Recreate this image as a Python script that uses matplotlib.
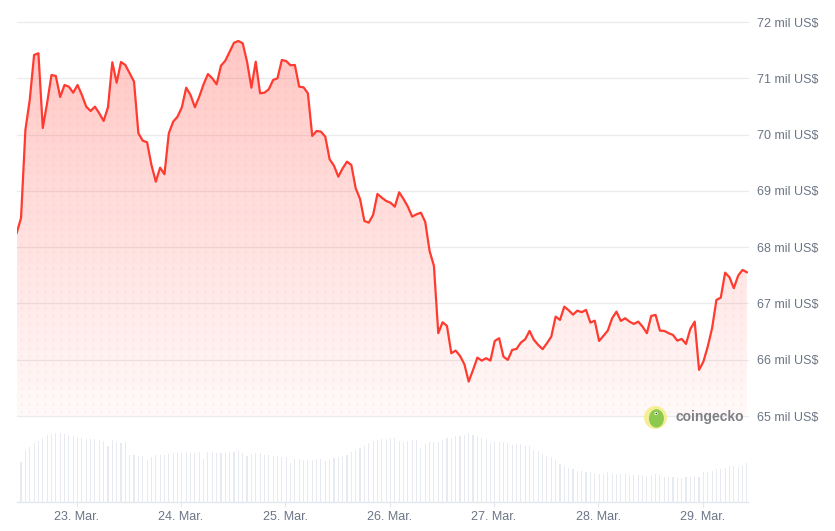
import matplotlib
matplotlib.use("Agg")
import matplotlib.pyplot as plt
import matplotlib.dates as mdates
from matplotlib.ticker import FuncFormatter, FixedLocator
from matplotlib.patches import Ellipse
import numpy as np
import pandas as pd

plt.rcParams['font.family'] = ['Liberation Sans', 'DejaVu Sans']

# hourly BTC price (US$), 22 Mar 10:12 -> 29 Mar
start = "2024-03-22 10:12"
price = [
    68252, 68519, 70082, 70615, 71414, 71444, 70117, 70561, 71059, 71041,
    70668, 70881, 70851, 70744, 70881, 70703, 70496, 70419, 70496, 70378,
    70242, 70485, 71284, 70922, 71290, 71236, 71089, 70940, 70023, 69892,
    69863, 69460, 69163, 69412, 69295, 70023, 70229, 70318, 70485, 70833,
    70703, 70485, 70673, 70893, 71076, 71000, 70893, 71224, 71313, 71472,
    71632, 71663, 71622, 71295, 70833, 71295, 70734, 70744, 70805, 70970,
    71000, 71325, 71307, 71231, 71236, 70851, 70840, 70734, 69975, 70064,
    70052, 69963, 69561, 69448, 69252, 69401, 69519, 69460, 69046, 68856,
    68465, 68435, 68572, 68945, 68879, 68821, 68790, 68719, 68975, 68856,
    68719, 68542, 68584, 68613, 68448, 67933, 67666, 66471, 66666, 66600,
    66115, 66162, 66068, 65920, 65611, 65819, 66037, 65984, 66027, 65984,
    66334, 66382, 66055, 65996, 66174, 66192, 66304, 66364, 66512, 66352,
    66263, 66187, 66293, 66410, 66766, 66707, 66943, 66879, 66801, 66872,
    66844, 66885, 66659, 66694, 66334, 66423, 66517, 66737, 66854, 66689,
    66737, 66677, 66636, 66677, 66588, 66471, 66778, 66796, 66517, 66512,
    66471, 66440, 66339, 66369, 66281, 66547, 66677, 65819, 65966, 66233,
    66560, 67062, 67103, 67547, 67465, 67270, 67494, 67595, 67554,
]

# hourly traded volume (relative units)
volume = [
    39.3, 39.3, 51.0, 53.7, 57.0, 59.7, 62.0, 64.7, 66.0, 67.0,
    67.0, 66.3, 65.3, 63.7, 62.7, 62.0, 61.0, 61.0, 61.0, 60.3,
    59.3, 54.3, 60.0, 58.0, 57.7, 58.0, 45.3, 45.3, 44.7, 44.3,
    41.0, 43.7, 45.3, 46.0, 46.0, 46.3, 47.3, 47.7, 47.3, 48.7,
    48.0, 48.0, 49.0, 42.0, 49.0, 49.0, 47.7, 48.0, 48.0, 48.3,
    49.0, 50.0, 47.7, 44.3, 46.7, 48.0, 47.3, 45.3, 45.3, 44.7,
    44.7, 43.7, 43.7, 38.0, 42.0, 42.0, 41.0, 41.3, 41.3, 42.0,
    42.0, 40.3, 41.3, 42.7, 43.3, 44.7, 46.0, 48.7, 50.3, 52.7,
    54.7, 57.0, 59.0, 60.7, 61.0, 61.0, 62.0, 62.7, 59.3, 58.7,
    59.3, 60.7, 60.3, 52.7, 56.0, 58.7, 58.7, 58.0, 60.7, 62.0,
    62.7, 63.7, 63.7, 65.3, 66.7, 64.7, 63.7, 62.7, 61.0, 57.7,
    58.0, 58.7, 58.7, 57.7, 55.3, 56.0, 56.0, 54.7, 54.7, 50.3,
    49.7, 47.0, 44.7, 43.3, 41.3, 37.0, 35.3, 33.0, 32.0, 30.3,
    29.7, 29.3, 28.7, 27.7, 27.0, 27.7, 28.7, 27.7, 27.7, 27.0,
    27.0, 26.3, 26.0, 26.0, 26.0, 25.3, 26.0, 27.0, 26.0, 24.7,
    24.7, 24.3, 23.7, 23.7, 24.7, 24.7, 25.3, 24.7, 28.7, 28.7,
    30.3, 32.0, 32.0, 32.7, 34.7, 34.7, 34.3, 34.7, 38.0,
]

price_ticks = [65000, 66000, 67000, 68000, 69000, 70000, 71000, 72000]

times = pd.date_range(start, periods=len(price), freq="h")
t0 = mdates.date2num(times[0])
t1 = t0 + 7.011

W, H = 835, 531
fig = plt.figure(figsize=(W / 100, H / 100), dpi=100)
fig.patch.set_facecolor("white")

line_red = "#ff3b30"
label_col = "#6b7585"
grid_col = "#ebebeb"

# ---- price panel ----
ax = fig.add_axes([16.7 / W, 1 - 416 / H, (748 - 16.7) / W, (416 - 22) / H])
ax.set_xlim(t0, t1)
ax.set_ylim(65000, 72000)
for s in ax.spines.values():
    s.set_visible(False)
for v in price_ticks:
    ax.axhline(v, color=grid_col, lw=0.9, zorder=0, clip_on=False)

poly = ax.fill_between(times, price, 65000, facecolor="none", edgecolor="none")
clip = poly.get_paths()[0]

# vertical gradient clipped to the area under the line
alpha = np.linspace(0.03, 0.30, 256).reshape(-1, 1)
grad = np.zeros((256, 1, 4))
grad[..., 0] = 1.0
grad[..., 1] = 0.23
grad[..., 2] = 0.19
grad[..., 3] = alpha
im = ax.imshow(grad, extent=[0, 1, 0, 1], transform=ax.transAxes,
               aspect="auto", origin="lower", zorder=1, interpolation="bilinear")
im.set_clip_path(clip, transform=ax.transData)

# faint dot texture in the area
gx, gy = np.meshgrid(np.arange(4, 731, 8) / 731.3, np.arange(4, 394, 8) / 394)
dots = ax.scatter(gx.ravel(), gy.ravel(), s=2.2, color=line_red, alpha=0.07,
                  linewidths=0, transform=ax.transAxes, zorder=1.5)
dots.set_clip_path(clip, transform=ax.transData)

ax.plot(times, price, color=line_red, lw=1.6, zorder=3, solid_joinstyle="round")

ax.set_xticks([])
ax.yaxis.tick_right()
ax.yaxis.set_major_locator(FixedLocator(price_ticks))
ax.yaxis.set_major_formatter(FuncFormatter(lambda v, p: f"{int(v / 1000)} mil US$"))
ax.tick_params(axis="y", length=0, pad=6.5, labelsize=9, labelcolor=label_col)

# coingecko mark
logo = fig.add_axes([644 / W, 1 - 429 / H, 23 / W, 23 / H])
logo.set_xlim(-1, 1)
logo.set_ylim(-1, 1)
logo.axis("off")
logo.add_patch(Ellipse((0, 0), 2, 2, facecolor="#f4ee96", edgecolor="none"))
logo.add_patch(Ellipse((0.08, -0.08), 1.3, 1.6, facecolor="#8dc94e", edgecolor="none"))
logo.add_patch(Ellipse((0.05, 0.35), 0.28, 0.28, facecolor="white", edgecolor="none"))
logo.add_patch(Ellipse((0.07, 0.35), 0.13, 0.13, facecolor="#333333", edgecolor="none"))
fig.text(675 / W, 1 - 417 / H, "coingecko", fontsize=10, fontweight="bold",
         color="#7d7f84", ha="left", va="center")

# ---- volume panel ----
axv = fig.add_axes([16.7 / W, 1 - 502 / H, (748 - 16.7) / W, 72 / H])
axv.set_xlim(t0, t1)
axv.set_ylim(0, 70)
axv.bar(times, volume, width=0.0105, color="#e7eaf0", linewidth=0, align="center")
for k in ["top", "left", "right"]:
    axv.spines[k].set_visible(False)
axv.spines["bottom"].set_color("#e3e7ee")
axv.spines["bottom"].set_linewidth(1)
axv.set_yticks([])
axv.xaxis.set_major_locator(mdates.DayLocator())
axv.xaxis.set_major_formatter(mdates.DateFormatter("%d. %b."))
axv.tick_params(axis="x", length=3.6, width=0.8, color="#e3e7ee",
                labelsize=9, labelcolor=label_col, pad=3)

fig.savefig("out.png", dpi=100, facecolor="white")
